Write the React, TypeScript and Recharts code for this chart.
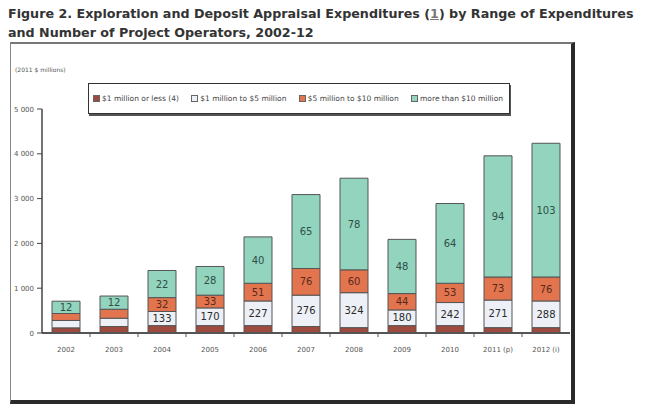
import { BarChart, Bar, XAxis, YAxis, Legend, LabelList } from 'recharts'

const years = ['2002', '2003', '2004', '2005', '2006', '2007', '2008', '2009', '2010', '2011 (p)', '2012 (i)']

// 2011 $ millions by range of expenditures per project operator
const oneOrLess = [115, 145, 165, 165, 165, 145, 120, 165, 165, 120, 120]
const oneToFive = [165, 185, 315, 395, 550, 700, 780, 350, 515, 615, 595]
const fiveToTen = [155, 200, 310, 285, 395, 595, 510, 365, 430, 515, 535]
const overTen = [275, 295, 605, 640, 1035, 1650, 2045, 1210, 1780, 2705, 2985]

// number of project operators
const opsOneToFive = [null, null, 133, 170, 227, 276, 324, 180, 242, 271, 288]
const opsFiveToTen = [null, null, 32, 33, 51, 76, 60, 44, 53, 73, 76]
const opsOverTen = [12, 12, 22, 28, 40, 65, 78, 48, 64, 94, 103]

const yTicks = [0, 1000, 2000, 3000, 4000, 5000]

const FONT = '"DejaVu Sans", Verdana, sans-serif'

const data = years.map((year, i) => ({
  year,
  a: oneOrLess[i],
  b: oneToFive[i],
  c: fiveToTen[i],
  d: overTen[i],
  nb: opsOneToFive[i],
  nc: opsFiveToTen[i],
  nd: opsOverTen[i],
}))

const fmt = (v: number) => String(v).replace(/\B(?=(\d{3})+(?!\d))/g, ' ')

function YearTick(props: any) {
  const { x, y, payload, index } = props
  const off = payload.offset || 0
  return (
    <g>
      {index > 0 && (
        <line x1={x - off} x2={x - off} y1={y} y2={y + 4} stroke="#555" strokeWidth={1} />
      )}
      <text x={x} y={y + 19} textAnchor="middle" fontSize={7} fill="#555" fontFamily={FONT}>
        {payload.value}
      </text>
    </g>
  )
}

function ValueTick(props: any) {
  const { x, y, payload } = props
  return (
    <text x={x} y={y + 2.5} textAnchor="end" fontSize={7} fill="#555" fontFamily={FONT}>
      {fmt(payload.value)}
    </text>
  )
}

function LegendBox(props: any) {
  const items = props.payload || []
  return (
    <div
      style={{
        border: '1.5px solid #333',
        boxShadow: '1px 2px 0 #555',
        background: '#fff',
        height: 29,
        display: 'flex',
        alignItems: 'center',
        justifyContent: 'space-between',
        padding: '0 6px 0 4px',
        fontFamily: FONT,
        fontSize: 7.5,
        color: '#444',
        whiteSpace: 'nowrap',
      }}
    >
      {items.map((it: any) => (
        <span key={it.value} style={{ display: 'inline-flex', alignItems: 'center' }}>
          <span
            style={{
              display: 'inline-block',
              width: 5,
              height: 5,
              background: it.color,
              border: '0.5px solid #666',
              marginRight: 2,
            }}
          />
          {it.value}
        </span>
      ))}
    </div>
  )
}

const stroke = '#555'

export default function App() {
  return (
    <div style={{ position: 'absolute', left: 0, top: 0, width: 646, height: 409, background: '#fff' }}>
      <div
        style={{
          position: 'absolute',
          left: 8,
          top: 4,
          fontFamily: FONT,
          fontWeight: 'bold',
          fontSize: 12.7,
          lineHeight: '19px',
          color: '#333',
          whiteSpace: 'nowrap',
        }}
      >
        <div>
          Figure 2. Exploration and Deposit Appraisal Expenditures (<span style={{ textDecoration: 'underline', color: '#777' }}>1</span>) by Range of Expenditures
        </div>
        <div>and Number of Project Operators, 2002-12</div>
      </div>
      <div
        style={{
          position: 'absolute',
          left: 10,
          top: 42,
          width: 560,
          height: 356,
          borderLeft: '1px solid #888',
          borderTop: '2px solid #777',
          borderRight: '4px solid #2a2a2a',
          borderBottom: '4px solid #2a2a2a',
        }}
      />
      <div
        style={{
          position: 'absolute',
          left: 15,
          top: 66,
          fontFamily: FONT,
          fontSize: 6,
          color: '#555',
        }}
      >
        (2011 $ millions)
      </div>
      <div style={{ position: 'absolute', left: 0, top: 0 }}>
        <BarChart
          width={646}
          height={409}
          data={data}
          margin={{ top: 109, right: 76, left: 8, bottom: 25 }}
          barSize={28}
        >
          <XAxis
            dataKey="year"
            height={20}
            tickSize={0}
            tickMargin={0}
            tickLine={false}
            axisLine={{ stroke: '#555', strokeWidth: 2 }}
            tick={<YearTick />}
            interval={0}
          />
          <YAxis
            width={34}
            domain={[0, 5000]}
            ticks={yTicks}
            tickSize={5}
            tickMargin={3}
            axisLine={{ stroke: '#444', strokeWidth: 1.5 }}
            tickLine={{ stroke: '#444' }}
            tick={<ValueTick />}
          />
          <Legend
            content={<LegendBox />}
            wrapperStyle={{ position: 'absolute', left: 88, top: 83, width: 422 }}
          />
          <Bar dataKey="a" name="$1 million or less (4)" stackId="s" fill="#9e4a3e" stroke={stroke} strokeWidth={1} isAnimationActive={false} />
          <Bar dataKey="b" name="$1 million to $5 million" stackId="s" fill="#eef0f7" stroke={stroke} strokeWidth={1} isAnimationActive={false}>
            <LabelList dataKey="nb" position="center" fontSize={10} fill="#2a2a2a" fontFamily={FONT} formatter={(v: any) => (v == null ? '' : v)} />
          </Bar>
          <Bar dataKey="c" name="$5 million to $10 million" stackId="s" fill="#e2744e" stroke={stroke} strokeWidth={1} isAnimationActive={false}>
            <LabelList dataKey="nc" position="center" fontSize={10} fill="#5a2a20" fontFamily={FONT} formatter={(v: any) => (v == null ? '' : v)} />
          </Bar>
          <Bar dataKey="d" name="more than $10 million" stackId="s" fill="#92d4bd" stroke={stroke} strokeWidth={1} isAnimationActive={false}>
            <LabelList dataKey="nd" position="center" fontSize={10} fill="#2f4f46" fontFamily={FONT} formatter={(v: any) => (v == null ? '' : v)} />
          </Bar>
        </BarChart>
      </div>
    </div>
  )
}
